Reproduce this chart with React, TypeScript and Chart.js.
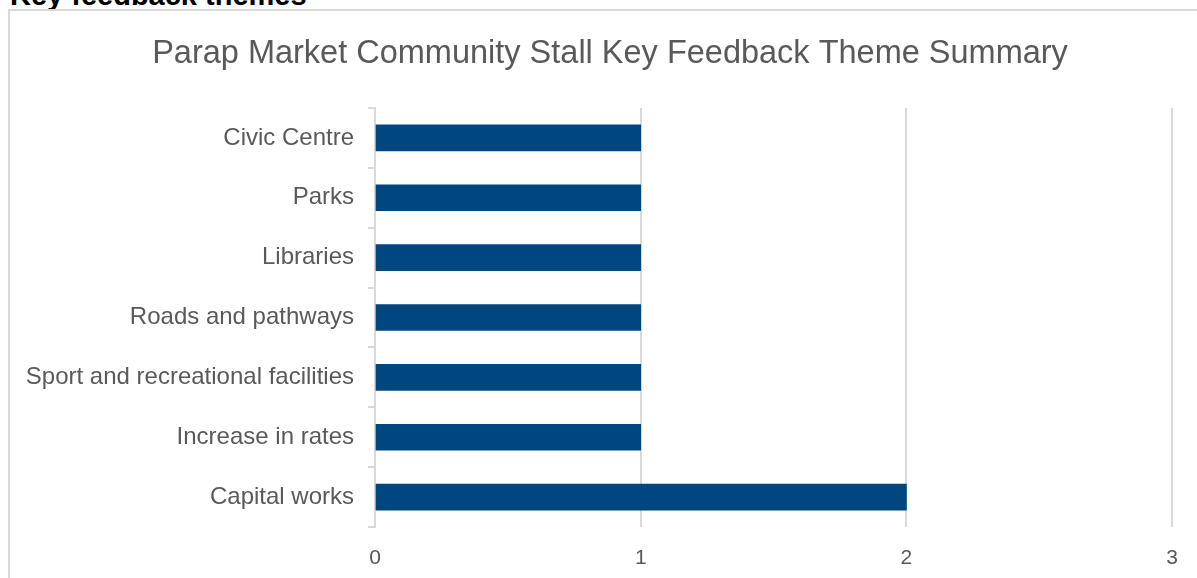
import React, { useEffect, useRef } from "react";
import { Chart, registerables } from "chart.js";

Chart.register(...registerables);

const categories = [
  "Civic Centre",
  "Parks",
  "Libraries",
  "Roads and pathways",
  "Sport and recreational facilities",
  "Increase in rates",
  "Capital works",
];
const values = [1, 1, 1, 1, 1, 1, 2];
const xMin = 0;
const xMax = 3;
const titleText = "Parap Market Community Stall Key Feedback Theme Summary";
const headingText = "Key feedback themes";

const titleShift = {
  id: "titleShift",
  afterLayout(chart: any) {
    const tb = chart.titleBlock;
    if (tb) {
      tb.left = 45;
      tb.right = 1175;
    }
  },
};

export default function App() {
  const ref = useRef<HTMLCanvasElement | null>(null);

  useEffect(() => {
    if (!ref.current) return;
    const chart = new Chart(ref.current, {
      type: "bar",
      data: {
        labels: categories,
        datasets: [
          {
            data: values,
            backgroundColor: "#00467f",
            borderWidth: 0,
            barThickness: 26,
          },
        ],
      },
      plugins: [titleShift],
      options: {
        indexAxis: "y",
        animation: false,
        responsive: false,
        maintainAspectRatio: false,
        layout: { padding: { left: 0, right: 16, top: 0, bottom: 0 } },
        plugins: {
          legend: { display: false },
          tooltip: { enabled: false },
          title: {
            display: true,
            text: titleText,
            color: "#595959",
            font: { family: "Liberation Sans", size: 32.5, weight: "normal" },
            padding: { top: 35, bottom: 34 },
          },
        },
        scales: {
          x: {
            min: xMin,
            max: xMax,
            ticks: {
              stepSize: 1,
              color: "#595959",
              font: { family: "Liberation Sans", size: 21 },
              padding: 19,
            },
            grid: { color: "#d9d9d9", lineWidth: 2, drawTicks: false },
            border: { display: false },
            afterFit: (s: any) => {
              s.height = 51;
            },
          },
          y: {
            ticks: {
              color: "#595959",
              font: { family: "Liberation Sans", size: 24 },
              padding: 14,
            },
            grid: {
              display: true,
              offset: true,
              drawOnChartArea: false,
              color: "#d9d9d9",
              lineWidth: 2,
              tickLength: 7,
            },
            border: { display: true, color: "#d9d9d9", width: 2 },
            afterFit: (s: any) => {
              s.width = 375;
            },
          },
        },
      },
    });
    return () => chart.destroy();
  }, []);

  return (
    <div
      style={{
        position: "fixed",
        left: 0,
        top: 0,
        width: 1197,
        height: 578,
        overflow: "hidden",
        background: "#fff",
      }}
    >
      <div
        style={{
          position: "absolute",
          left: 10,
          top: -19,
          fontFamily: "Liberation Sans",
          fontWeight: "bold",
          fontSize: 29,
          lineHeight: "29px",
          color: "#000",
          whiteSpace: "nowrap",
        }}
      >
        {headingText}
      </div>
      <div
        style={{
          position: "absolute",
          left: 8,
          top: 9,
          width: 1300,
          height: 700,
          border: "2px solid #d9d9d9",
        }}
      />
      <canvas
        ref={ref}
        width={1197}
        height={578}
        style={{ position: "absolute", left: 0, top: 0, width: 1197, height: 578 }}
      />
    </div>
  );
}
